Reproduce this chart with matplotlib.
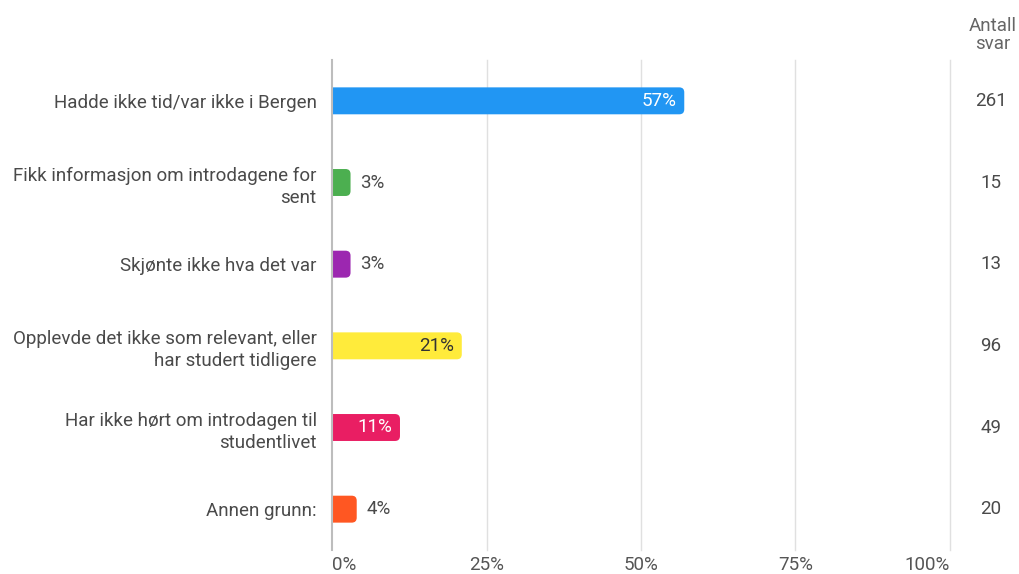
import matplotlib.pyplot as plt
from matplotlib.patches import PathPatch
from matplotlib.path import Path

plt.rcParams['font.family'] = ['Roboto', 'DejaVu Sans']

categories = [
    'Hadde ikke tid/var ikke i Bergen',
    'Fikk informasjon om introdagene for\nsent',
    'Skjønte ikke hva det var',
    'Opplevde det ikke som relevant, eller\nhar studert tidligere',
    'Har ikke hørt om introdagen til\nstudentlivet',
    'Annen grunn:',
]
percent = [57, 3, 3, 21, 11, 4]
counts = [261, 15, 13, 96, 49, 20]
colors = ['#2196F3', '#4CAF50', '#9C27B0', '#FFEB3B', '#E91E63', '#FF5722']
label_inside = [True, False, False, True, True, False]
label_colors = ['white', '#4a4a4a', '#4a4a4a', '#333333', 'white', '#4a4a4a']
xticks = [0, 25, 50, 75, 100]

W, H = 1020, 574
FS = 13.5
fig = plt.figure(figsize=(W / 100, H / 100), dpi=100)
ax = fig.add_axes([332 / W, 1 - 550 / H, 618 / W, 490 / H])
ax.set_xlim(0, 100)
ax.set_ylim(5.5, -0.5)

for x in xticks[1:]:
    ax.axvline(x, color='#e0e0e0', lw=1, zorder=0, clip_on=False)
ax.axvline(0, color='#bdbdbd', lw=1.5, zorder=3, clip_on=False)

bh = 0.33
px_x = 618 / 100   # pixels per x unit
px_y = 490 / 6     # pixels per y unit
rx = 5 / px_x
ry = 5 / px_y
for i, (v, c) in enumerate(zip(percent, colors)):
    y0, y1 = i - bh / 2, i + bh / 2
    verts = [(0, y0), (v - rx, y0), (v, y0), (v, y0 + ry), (v, y1 - ry),
             (v, y1), (v - rx, y1), (0, y1), (0, y0)]
    codes = [Path.MOVETO, Path.LINETO, Path.CURVE3, Path.CURVE3, Path.LINETO,
             Path.CURVE3, Path.CURVE3, Path.LINETO, Path.CLOSEPOLY]
    ax.add_patch(PathPatch(Path(verts, codes), fc=c, ec='none', zorder=2))
    if label_inside[i]:
        ax.annotate(f'{v}%', (v, i), xytext=(-8, 0), textcoords='offset pixels',
                    ha='right', va='center', fontsize=FS, color=label_colors[i], zorder=4)
    else:
        ax.annotate(f'{v}%', (v, i), xytext=(10, 0), textcoords='offset pixels',
                    ha='left', va='center', fontsize=FS, color=label_colors[i], zorder=4)

ax.set_yticks(range(len(categories)))
ax.set_yticklabels(categories, fontsize=FS, color='#4a4a4a', linespacing=1.3, ha='right')
ax.tick_params(axis='y', length=0, pad=11)
ax.set_xticks(xticks)
ax.set_xticklabels([f'{x}%' for x in xticks], fontsize=FS, color='#555555')
ax.tick_params(axis='x', length=0, pad=4)
xl = ax.get_xticklabels()
xl[0].set_ha('left')
xl[-1].set_ha('right')

for s in ax.spines.values():
    s.set_visible(False)

# count column
for i, n in enumerate(counts):
    fig.text(991 / W, 1 - (101 + i * 81.7) / H, str(n), ha='center', va='center',
             fontsize=FS, color='#4a4a4a')
fig.text(993 / W, 1 - 35 / H, 'Antall\nsvar', ha='center', va='center',
         fontsize=FS, color='#666666', linespacing=1.05)

fig.savefig('out.png', dpi=100)
